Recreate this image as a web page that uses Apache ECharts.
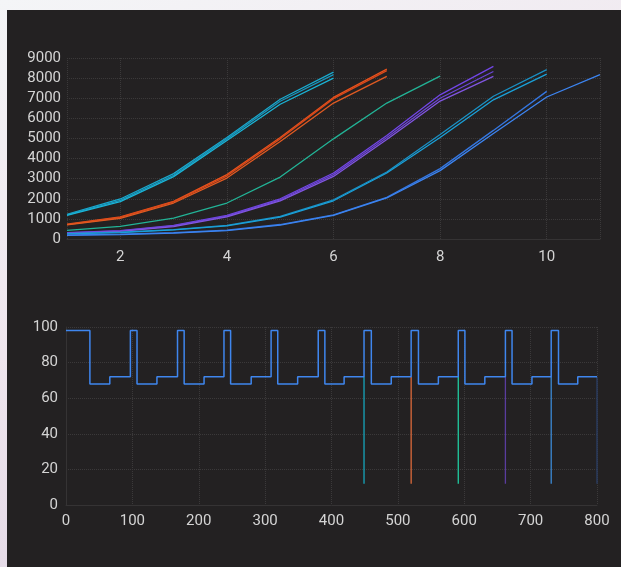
<!DOCTYPE html>
<html><head><meta charset="utf-8">
<script src="https://cdn.jsdelivr.net/npm/echarts@6/dist/echarts.min.js"></script>
<style>
html,body{margin:0;padding:0;width:621px;height:567px;overflow:hidden;
background:linear-gradient(160deg,#f4f5f7 0%,#efe6ee 45%,#e6dce8 70%,#d9d0e2 100%);}
#c{position:absolute;left:7px;top:10px;width:620px;height:570px;background:#232122;}
</style></head><body><div id="c"></div>
<script>
// Top chart data
const xTop = [1,2,3,4,5,6,7,8,9,10,11];
const cyan1 = [1220,1990,3250,5050,6950,8300];
const cyan2 = [1200,1920,3170,4980,6850,8170];
const cyan3 = [1180,1860,3100,4900,6700,8000];
const orange1 = [740,1100,1870,3200,5050,7040,8450];
const orange2 = [720,1070,1840,3130,4980,6980,8370];
const orange3 = [700,1030,1790,3030,4850,6760,8090];
const green1 = [430,630,1040,1790,3080,4980,6760,8100];
const purple1 = [320,420,680,1180,2000,3280,5150,7170,8580];
const purple2 = [300,400,650,1140,1950,3200,5050,7000,8330];
const purple3 = [280,380,620,1100,1900,3110,4950,6860,8090];
const teal1 = [270,340,470,680,1130,1950,3330,5200,7100,8420];
const teal2 = [250,320,450,650,1090,1900,3280,5050,6920,8200];
const blue1 = [210,240,310,440,720,1200,2070,3500,5400,7340];
const blue2 = [180,220,290,420,690,1170,2040,3400,5250,7060,8170];

// Bottom chart data
const stepX = [0,36,66,97,107,137,168,178,208,238,248,279,309,319,349,380,390,419,449,460,490,520,531,561,591,601,631,662,672,702,731,742,771,800];
const stepY = [98,68,72,98,68,72,98,68,72,98,68,72,98,68,72,98,68,72,98,68,72,98,68,72,98,68,72,98,68,72,98,68,72,72];
const spikeX = [449,520,591,662,731,800];
const spikeTop = 72;
const spikeBottom = 12;

const topSeries = [
  [cyan1,'#1aa8cc'],[cyan2,'#1896bd'],[cyan3,'#1ab4d6'],
  [orange1,'#e8521c'],[orange2,'#d9481a'],[orange3,'#e05a22'],
  [green1,'#22b396'],
  [purple1,'#7246e6'],[purple2,'#6a44d4'],[purple3,'#8055e0'],
  [teal1,'#1a90c4'],[teal2,'#1aa0d8'],
  [blue1,'#3476e0'],[blue2,'#3c84f0']
];
const spikeColors = ['#16a6bc','#dc6a3a','#20c99f','#5a3c9e','#3b8ad6','#2a3e66'];

const axisLabel = {color:'#d4d4d4', fontSize:15, fontFamily:'Roboto', formatter:(v)=>String(v)};
const split = {show:true, lineStyle:{color:'#3b393a', type:'dotted', width:1}};

const series = [];
topSeries.forEach(([arr,col])=>{
  series.push({type:'line', xAxisIndex:0, yAxisIndex:0, showSymbol:false, symbol:'none',
    lineStyle:{width:1.3, color:col}, itemStyle:{color:col},
    data: arr.map((v,i)=>[xTop[i], v])});
});
spikeX.forEach((x,i)=>{
  series.push({type:'line', xAxisIndex:1, yAxisIndex:1, symbol:'none',
    lineStyle:{width:1.3, color:spikeColors[i]},
    data:[[x,spikeTop],[x,spikeBottom]]});
});
series.push({type:'line', xAxisIndex:1, yAxisIndex:1, symbol:'none', step:'end',
  lineStyle:{width:1.5, color:'#3f86ee'},
  data: stepX.map((x,i)=>[x, stepY[i]])});

const chart = echarts.init(document.getElementById('c'));
chart.setOption({
  backgroundColor:'#232122',
  animation:false,
  grid:[
    {left:60, right:27, top:48, height:181},
    {left:59, right:30, top:317, height:178}
  ],
  xAxis:[
    {gridIndex:0, type:'value', min:1, max:11, splitNumber:5,
     axisLine:{show:true, lineStyle:{color:'#353334'}}, axisTick:{show:false},
     axisLabel:Object.assign({}, axisLabel, {margin:11, showMinLabel:false, showMaxLabel:false}),
     splitLine:split},
    {gridIndex:1, type:'value', min:0, max:800, interval:100,
     axisLine:{show:true, lineStyle:{color:'#353334'}}, axisTick:{show:false},
     axisLabel:Object.assign({}, axisLabel, {margin:9}),
     splitLine:split}
  ],
  yAxis:[
    {gridIndex:0, type:'value', min:0, max:9000, interval:1000,
     axisLine:{show:false}, axisTick:{show:false},
     axisLabel:Object.assign({}, axisLabel, {margin:6}), splitLine:split},
    {gridIndex:1, type:'value', min:0, max:100, interval:20,
     axisLine:{show:true, lineStyle:{color:'#353334'}}, axisTick:{show:false},
     axisLabel:Object.assign({}, axisLabel, {margin:8}), splitLine:split}
  ],
  series: series
});
</script></body></html>
